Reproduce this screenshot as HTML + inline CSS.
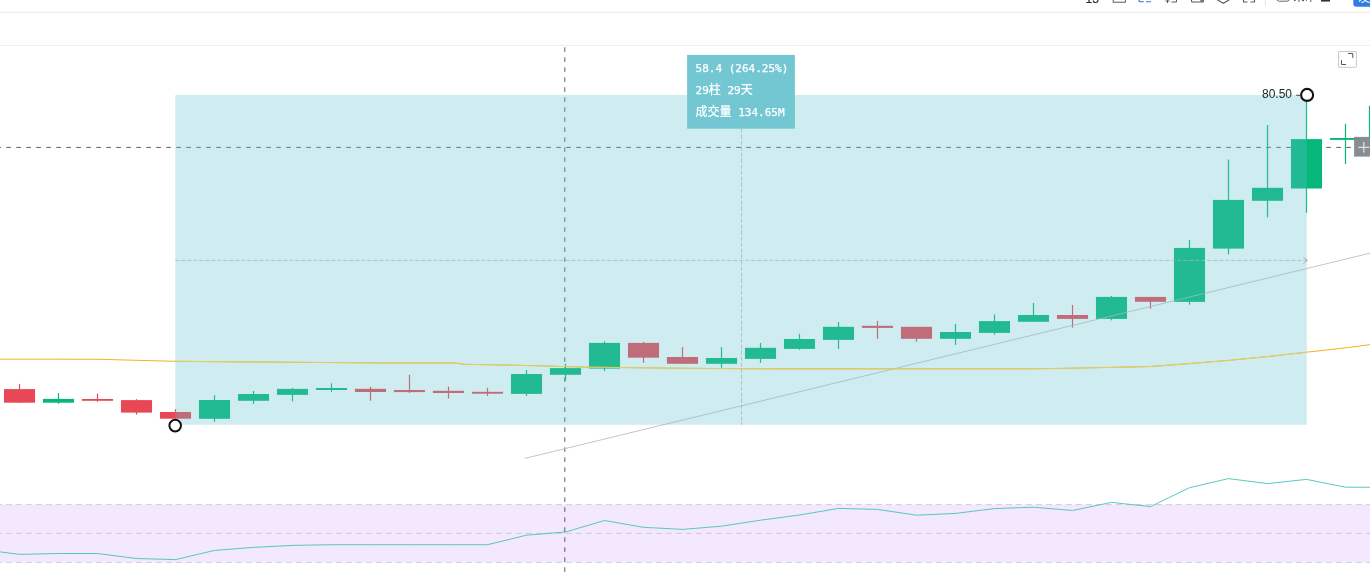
<!DOCTYPE html>
<html lang="zh-CN">
<head>
<meta charset="utf-8">
<title>chart</title>
<style>
html,body{margin:0;padding:0;background:#fff;}
body{width:1370px;height:574px;overflow:hidden;position:relative;font-family:"Liberation Sans","Noto Sans CJK SC",sans-serif;}
#chart{position:absolute;left:0;top:0;width:1370px;height:574px;display:block;}
.tb{position:absolute;top:0;left:0;width:1370px;height:12px;overflow:hidden;}
.tb span{position:absolute;white-space:nowrap;}
.hl{position:absolute;left:1262px;top:87px;font-size:12px;line-height:15px;color:#262626;letter-spacing:0;white-space:nowrap;}
</style>
</head>
<body>
<svg id="chart" width="1370" height="574" viewBox="0 0 1370 574">
<rect x="0" y="0" width="1370" height="574" fill="#ffffff"/>
<!-- header separators -->
<rect x="0" y="11.8" width="1370" height="1.2" fill="#eeeeee"/>
<rect x="0" y="44.8" width="1370" height="1.2" fill="#f0f0f0"/>
<!-- toolbar remnants (clipped by viewport top) -->
<g font-family="Liberation Sans, Noto Sans CJK SC, sans-serif">
<text x="1085.6" y="2.7" font-size="12" fill="#2e2e2e" stroke="#2e2e2e" stroke-width="0.2">15</text>
<rect x="1113.2" y="-10" width="12.2" height="12.2" fill="none" stroke="#5a5a5a" stroke-width="1"/>
<path d="M1139 -8v8.2q0 1.6 1.6 1.6h3.2M1146 1.8h5" fill="none" stroke="#3b78c9" stroke-width="1.1"/>
<path d="M1165.5 1h4M1167.5 -6v9M1171.5 2h5v-6" fill="none" stroke="#5a5a5a" stroke-width="1"/>
<rect x="1191.5" y="-9" width="12" height="11" rx="1" fill="none" stroke="#5a5a5a" stroke-width="1.1"/>
<circle cx="1202" cy="0.5" r="1.8" fill="#777"/>
<path d="M1215.6 -1.2l7.7 4.5l7.7 -4.5" fill="none" stroke="#5a5a5a" stroke-width="1.1"/>
<path d="M1243.5 -2v4h4M1254.5 -2v4h-4" fill="none" stroke="#5a5a5a" stroke-width="1.1"/>
<rect x="1264.9" y="-2" width="1" height="7.6" fill="#e3e3e3"/>
<rect x="1276.7" y="-9" width="12.8" height="10.2" rx="2.5" fill="none" stroke="#6a6a6a" stroke-width="1"/>
<text x="1293.6" y="1.1" font-size="11" fill="#3a3a3a">未命</text>
<path d="M1321 -6h9v7.6h-9z" fill="#333"/>
<rect x="1353.3" y="-10" width="30" height="16.7" rx="3" fill="#2f7de1"/>
<text x="1358.2" y="1.6" font-size="12" fill="#fff">发表</text>
</g>
<!-- RSI band -->
<rect x="0" y="504.6" width="1370" height="57.8" fill="#f3e8fe"/>
<g stroke="#c6bfcf" stroke-width="0.75" stroke-dasharray="6 4" fill="none">
<line x1="-4.2" y1="504.6" x2="1370" y2="504.6"/>
<line x1="-4.2" y1="533.4" x2="1370" y2="533.4"/>
<line x1="-4.2" y1="562.4" x2="1370" y2="562.4"/>
</g>
<polyline points="-2,551.6 19.5,554.4 58.5,553.5 97.5,553.5 136.5,558.5 175.5,559.6 214.5,550.4 253.5,547.4 292.5,545.4 331.5,544.7 370.5,544.7 409.5,544.7 448.5,544.7 487.5,544.7 526.5,535.2 565.5,532.0 604.5,520.5 643.5,527.3 682.5,529.4 721.5,526.2 760.5,520.2 799.5,515.0 838.5,508.4 877.5,509.4 916.5,515.2 955.5,513.4 994.5,508.6 1033.5,507.2 1072.5,510.5 1111.5,502.4 1150.5,506.6 1189.5,487.7 1228.5,478.6 1267.5,483.6 1306.5,479.4 1345.5,487.2 1372,487.2" fill="none" stroke="#45c3bc" stroke-width="0.9" stroke-linejoin="round"/>
<!-- crosshair -->
<g stroke="#4f5559" stroke-width="0.95" stroke-dasharray="4.6 5.4" fill="none">
<line x1="-3.7" y1="147.4" x2="1354" y2="147.4"/>
<line x1="564.8" y1="47.3" x2="564.8" y2="574"/>
</g>
<!-- candles -->
<g>
<rect x="18.90" y="383.9" width="1.2" height="18.8" fill="#e84855"/>
<rect x="3.95" y="389.1" width="31.10" height="13.6" fill="#e84855"/>
<rect x="57.90" y="393.1" width="1.2" height="10.7" fill="#06b779"/>
<rect x="42.95" y="398.9" width="31.10" height="3.8" fill="#06b779"/>
<rect x="96.90" y="393.5" width="1.2" height="8.3" fill="#e84855"/>
<rect x="81.95" y="399.0" width="31.10" height="1.8" fill="#e84855"/>
<rect x="135.90" y="399.2" width="1.2" height="15.4" fill="#e84855"/>
<rect x="120.95" y="400.1" width="31.10" height="12.5" fill="#e84855"/>
<rect x="174.90" y="409.2" width="1.2" height="9.5" fill="#e84855"/>
<rect x="159.95" y="412.0" width="31.10" height="6.7" fill="#e84855"/>
<rect x="213.90" y="395.2" width="1.2" height="26.6" fill="#06b779"/>
<rect x="198.95" y="400.0" width="31.10" height="18.8" fill="#06b779"/>
<rect x="252.90" y="391.0" width="1.2" height="12.9" fill="#06b779"/>
<rect x="237.95" y="394.0" width="31.10" height="6.8" fill="#06b779"/>
<rect x="291.90" y="388.0" width="1.2" height="13.4" fill="#06b779"/>
<rect x="276.95" y="388.9" width="31.10" height="6.0" fill="#06b779"/>
<rect x="330.90" y="383.3" width="1.2" height="8.6" fill="#06b779"/>
<rect x="315.95" y="388.0" width="31.10" height="2.0" fill="#06b779"/>
<rect x="369.90" y="386.7" width="1.2" height="14.1" fill="#e84855"/>
<rect x="354.95" y="388.8" width="31.10" height="3.2" fill="#e84855"/>
<rect x="408.90" y="374.8" width="1.2" height="18.2" fill="#e84855"/>
<rect x="393.95" y="390.0" width="31.10" height="2.1" fill="#e84855"/>
<rect x="447.90" y="386.6" width="1.2" height="11.9" fill="#e84855"/>
<rect x="432.95" y="390.8" width="31.10" height="2.2" fill="#e84855"/>
<rect x="486.90" y="387.8" width="1.2" height="8.2" fill="#e84855"/>
<rect x="471.95" y="391.8" width="31.10" height="1.9" fill="#e84855"/>
<rect x="525.90" y="370.0" width="1.2" height="26.0" fill="#06b779"/>
<rect x="510.95" y="374.0" width="31.10" height="19.9" fill="#06b779"/>
<rect x="564.90" y="363.7" width="1.2" height="17.0" fill="#06b779"/>
<rect x="549.95" y="368.1" width="31.10" height="6.7" fill="#06b779"/>
<rect x="603.90" y="341.2" width="1.2" height="29.9" fill="#06b779"/>
<rect x="588.95" y="342.9" width="31.10" height="25.7" fill="#06b779"/>
<rect x="642.90" y="341.9" width="1.2" height="21.0" fill="#e84855"/>
<rect x="627.95" y="342.9" width="31.10" height="14.8" fill="#e84855"/>
<rect x="681.90" y="347.1" width="1.2" height="16.7" fill="#e84855"/>
<rect x="666.95" y="357.0" width="31.10" height="6.8" fill="#e84855"/>
<rect x="720.90" y="347.1" width="1.2" height="20.6" fill="#06b779"/>
<rect x="705.95" y="358.0" width="31.10" height="5.8" fill="#06b779"/>
<rect x="759.90" y="342.9" width="1.2" height="20.0" fill="#06b779"/>
<rect x="744.95" y="347.8" width="31.10" height="11.1" fill="#06b779"/>
<rect x="798.90" y="333.9" width="1.2" height="15.9" fill="#06b779"/>
<rect x="783.95" y="339.0" width="31.10" height="9.9" fill="#06b779"/>
<rect x="837.90" y="321.9" width="1.2" height="27.1" fill="#06b779"/>
<rect x="822.95" y="326.8" width="31.10" height="13.1" fill="#06b779"/>
<rect x="876.90" y="320.9" width="1.2" height="17.9" fill="#e84855"/>
<rect x="861.95" y="325.8" width="31.10" height="2.1" fill="#e84855"/>
<rect x="915.90" y="326.8" width="1.2" height="15.0" fill="#e84855"/>
<rect x="900.95" y="326.8" width="31.10" height="12.0" fill="#e84855"/>
<rect x="954.90" y="324.0" width="1.2" height="20.9" fill="#06b779"/>
<rect x="939.95" y="332.0" width="31.10" height="6.8" fill="#06b779"/>
<rect x="993.90" y="314.4" width="1.2" height="20.3" fill="#06b779"/>
<rect x="978.95" y="321.1" width="31.10" height="11.8" fill="#06b779"/>
<rect x="1032.90" y="302.9" width="1.2" height="18.9" fill="#06b779"/>
<rect x="1017.95" y="315.0" width="31.10" height="6.8" fill="#06b779"/>
<rect x="1071.90" y="304.9" width="1.2" height="22.8" fill="#e84855"/>
<rect x="1056.95" y="315.0" width="31.10" height="3.9" fill="#e84855"/>
<rect x="1110.90" y="296.0" width="1.2" height="24.3" fill="#06b779"/>
<rect x="1095.95" y="296.9" width="31.10" height="22.0" fill="#06b779"/>
<rect x="1149.90" y="296.9" width="1.2" height="11.9" fill="#e84855"/>
<rect x="1134.95" y="296.9" width="31.10" height="4.9" fill="#e84855"/>
<rect x="1188.90" y="240.0" width="1.2" height="64.6" fill="#06b779"/>
<rect x="1173.95" y="247.9" width="31.10" height="54.0" fill="#06b779"/>
<rect x="1227.90" y="159.5" width="1.2" height="94.8" fill="#06b779"/>
<rect x="1212.95" y="199.9" width="31.10" height="48.7" fill="#06b779"/>
<rect x="1266.90" y="125.0" width="1.2" height="92.4" fill="#06b779"/>
<rect x="1251.95" y="187.8" width="31.10" height="13.0" fill="#06b779"/>
<rect x="1305.90" y="95.0" width="1.2" height="117.8" fill="#06b779"/>
<rect x="1290.95" y="139.1" width="31.10" height="49.4" fill="#06b779"/>
<rect x="1344.90" y="123.7" width="1.2" height="40.3" fill="#06b779"/>
<rect x="1329.95" y="138.0" width="31.10" height="1.9" fill="#06b779"/>
<rect x="1368.9" y="105.8" width="2" height="32.5" fill="#06b779"/>
</g>
<!-- MA -->
<polyline points="0,359.2 60,359.2 100,359.3 140,360.4 175,361.3 230,361.8 300,362.3 390,363.0 455,363.0 464,364.3 500,364.9 542,365.9 565,366.6 585,367.1 640,367.8 700,368.4 780,368.9 900,368.8 1033.5,368.8 1072.4,368.2 1111.5,367.4 1150.5,366.5 1189.5,363.6 1228.4,360.4 1267.4,356.6 1306.6,352.2 1345.3,347.9 1372,344.4" fill="none" stroke="#f2b51d" stroke-width="1" stroke-linejoin="round"/>
<!-- trend line -->
<line x1="524.8" y1="458.4" x2="1372" y2="252.7" stroke="#bab5b5" stroke-width="0.8"/>
<!-- measure overlay -->
<rect x="175.3" y="95" width="1131.5" height="329.8" fill="rgb(95,195,208)" fill-opacity="0.3"/>
<clipPath id="ov"><rect x="175.3" y="95" width="1131.5" height="329.8"/></clipPath>
<polyline points="0,359.2 60,359.2 100,359.3 140,360.4 175,361.3 230,361.8 300,362.3 390,363.0 455,363.0 464,364.3 500,364.9 542,365.9 565,366.6 585,367.1 640,367.8 700,368.4 780,368.9 900,368.8 1033.5,368.8 1072.4,368.2 1111.5,367.4 1150.5,366.5 1189.5,363.6 1228.4,360.4 1267.4,356.6 1306.6,352.2 1345.3,347.9 1372,344.4" fill="none" stroke="#e3cd62" stroke-width="1" stroke-linejoin="round" clip-path="url(#ov)"/>
<g stroke="#a3b8bd" stroke-width="0.8" stroke-dasharray="4 2" fill="none">
<line x1="175.3" y1="260.4" x2="1307" y2="260.4"/>
<line x1="741.5" y1="128.7" x2="741.5" y2="424.8"/>
</g>
<!-- measure label -->
<rect x="687.1" y="54.9" width="107.8" height="73.8" fill="#72c7d3"/>
<g font-family="DejaVu Sans Mono, Noto Sans CJK SC, monospace" font-size="11" fill="#fff" stroke="#fff" stroke-width="0.25" xml:space="preserve">
<text x="695.6" y="72.1">58.4 (264.25%)</text>
<text x="695.6" y="94.0">29<tspan font-size="12">柱</tspan> 29<tspan font-size="12">天</tspan></text>
<text x="695.6" y="115.8"><tspan font-size="12">成交量</tspan> 134.65M</text>
</g>
<polyline points="1303.5,257.4 1307.6,260.4 1303.5,263.4" fill="none" stroke="#a5a5a5" stroke-width="0.9"/>
<!-- plus button -->
<rect x="1354.1" y="136.9" width="16" height="19.7" fill="#82888e" fill-opacity="0.96"/>
<path d="M1358.3 147.3h11M1363.8 141.9v10.8" stroke="#dfe1e3" stroke-width="1.3" fill="none"/>
<!-- anchors -->
<circle cx="175.2" cy="425.6" r="5.8" fill="#fff" stroke="#111" stroke-width="2"/>
<circle cx="1307.1" cy="94.9" r="6.0" fill="#fff" stroke="#111" stroke-width="2.1"/>
<line x1="1296.2" y1="95.3" x2="1300.5" y2="95.3" stroke="#444" stroke-width="1"/>
<!-- fullscreen button -->
<rect x="1338.6" y="51.5" width="17.8" height="15.8" rx="0.6" fill="#fff" stroke="#c8c8c8" stroke-width="1"/>
<path d="M1348.1 53.5h4.7v4.4M1341.5 60.2v4.3h4.5" fill="none" stroke="#555" stroke-width="1"/>
</svg>
<div class="hl">80.50</div>

</body>
</html>
